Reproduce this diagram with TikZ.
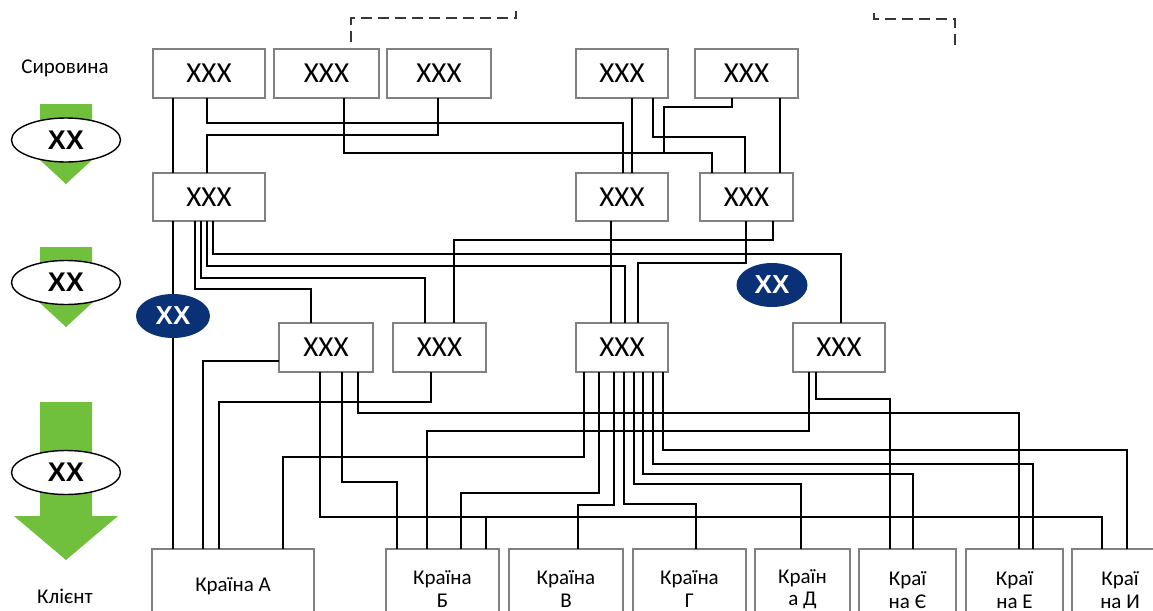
\documentclass[tikz,border=0pt]{standalone}
\usepackage{fontspec}
\setmainfont{Carlito}
\newfontfamily\xxfont{Liberation Sans}
\usetikzlibrary{shapes.geometric}
\definecolor{boxgray}{RGB}{128,128,128}
\definecolor{arrowgreen}{RGB}{112,192,62}
\definecolor{navyblue}{RGB}{10,48,118}
\definecolor{dashgray}{RGB}{55,55,55}
\begin{document}
\begin{tikzpicture}[x=0.5pt,y=-0.5pt,
  box/.style={draw=boxgray, line width=1.1pt, fill=white, inner sep=0pt, outer sep=0pt, font=\fontsize{14.5}{16}\selectfont},
  cbox/.style={box, font=\fontsize{10.5}{11.2}\selectfont, align=center},
  wire/.style={line width=0.8pt, black},
  oval/.style={ellipse, draw=black, line width=0.7pt, fill=white, inner sep=0pt, minimum width=54.5pt, minimum height=22pt, font=\xxfont\bfseries\fontsize{13.5}{15}\selectfont},
  blueoval/.style={ellipse, fill=navyblue, text=white, inner sep=0pt, minimum height=22pt, font=\xxfont\bfseries\fontsize{13}{15}\selectfont},
  dashline/.style={dashgray, line width=1.3pt, dash pattern=on 5.5pt off 3pt},
  greenarrow/.style={fill=arrowgreen, draw=none},
  lbl/.style={font=\fontsize{10.5}{12}\selectfont, inner sep=0pt}
]
\useasboundingbox (0,0) rectangle (1153,611);
\clip (0,0) rectangle (1153,611);

% left column
\node[lbl] (raw) at (65,68) {Сировина};
\node[lbl] (client) at (65,596) {Клієнт};
\fill[greenarrow] (40,104) -- (92,104) -- (92,137) -- (117,137) -- (66,184) -- (15,137) -- (40,137) -- cycle;
\fill[greenarrow] (40,247) -- (92,247) -- (92,280) -- (117,280) -- (66,327) -- (15,280) -- (40,280) -- cycle;
\fill[greenarrow] (40,402) -- (92,402) -- (92,516) -- (118,516) -- (66,560) -- (14,516) -- (40,516) -- cycle;
\node[oval] (o1) at (66,140) {XX};
\node[oval] (o2) at (66,282.5) {XX};
\node[oval] (o3) at (66,472.5) {XX};

% dashed lines
\draw[dashline] (351,42) -- (351,18) -- (516,18) -- (516,11);
\draw[dashline] (874,13) -- (874,19) -- (955,19) -- (955,48);

% boxes
\node[box, minimum width=56pt, minimum height=24.5pt] (T1) at (209,73.5) {XXX};
\node[box, minimum width=52.5pt, minimum height=24.5pt] (T2) at (326.5,73.5) {XXX};
\node[box, minimum width=52pt, minimum height=24.5pt] (T3) at (439,73.5) {XXX};
\node[box, minimum width=46pt, minimum height=24.5pt] (T4) at (622,73.5) {XXX};
\node[box, minimum width=51.5pt, minimum height=24.5pt] (T5) at (746.5,73.5) {XXX};
\node[box, minimum width=56pt, minimum height=24pt] (M1) at (209,197) {XXX};
\node[box, minimum width=46pt, minimum height=24pt] (M2) at (622,197) {XXX};
\node[box, minimum width=46.5pt, minimum height=24pt] (M3) at (746.5,197) {XXX};
\node[box, minimum width=47pt, minimum height=24.5pt] (L1) at (326,347.5) {XXX};
\node[box, minimum width=46.5pt, minimum height=24.5pt] (L2) at (439.5,347.5) {XXX};
\node[box, minimum width=46pt, minimum height=24.5pt] (L3) at (622,347.5) {XXX};
\node[box, minimum width=46pt, minimum height=24.5pt] (L4) at (839,347.5) {XXX};
\node[cbox, minimum width=81pt, minimum height=37pt] (CA) at (233,586) {Країна А};
\node[cbox, minimum width=56.5pt, minimum height=40pt] (CB) at (442.5,589) {Країна\\Б};
\node[cbox, minimum width=57pt, minimum height=40pt] (CV) at (566,589) {Країна\\В};
\node[cbox, minimum width=56.5pt, minimum height=40pt] (CG) at (689.5,589) {Країна\\Г};
\node[cbox, minimum width=47.5pt, minimum height=40pt] (CD) at (802.5,589) {Країн\\а Д};
\node[cbox, minimum width=48.5pt, minimum height=41pt] (CE) at (907.5,590) {Краї\\на Є};
\node[cbox, minimum width=48.5pt, minimum height=41pt] (CEE) at (1014.5,590) {Краї\\на Е};
\node[cbox, minimum width=48pt, minimum height=41pt] (CI) at (1120,590) {Краї\\на И};

% top -> middle
\draw[wire] (T1.south -| 173,0) -- (M1.north -| 173,0);
\draw[wire] (T1.south -| 207,0) |- (623,123) -- (M2.north -| 623,0);
\draw[wire] (T3.south -| 438,0) |- (207,135) -- (M1.north -| 207,0);
\draw[wire] (T2.south -| 344,0) |- (712,153) -- (M3.north -| 712,0);
\draw[wire] (T4.south -| 632,0) -- (M2.north -| 632,0);
\draw[wire] (T4.south -| 653,0) |- (745,137) -- (M3.north -| 745,0);
\draw[wire] (T5.south -| 732,0) |- (664,107) -- (664,153) -| (M3.north -| 712,0);
\draw[wire] (T5.south -| 780,0) -- (M3.north -| 780,0);

% middle -> lower
\draw[wire] (M1.south -| 173,0) -- (CA.north -| 173,0);
\draw[wire] (M1.south -| 195,0) |- (311,289) -- (L1.north -| 311,0);
\draw[wire] (M1.south -| 201,0) |- (425,278) -- (L2.north -| 425,0);
\draw[wire] (M1.south -| 207,0) |- (625,266) -- (L3.north -| 625,0);
\draw[wire] (M1.south -| 213,0) |- (841,254) -- (L4.north -| 841,0);
\draw[wire] (M2.south -| 611,0) -- (L3.north -| 611,0);
\draw[wire] (M3.south -| 773,0) |- (454,240) -- (L2.north -| 454,0);
\draw[wire] (M3.south -| 746,0) |- (638,263) -- (L3.north -| 638,0);

% lower -> countries
\draw[wire] (L1.west |- 0,361) -| (CA.north -| 203,0);
\draw[wire] (L2.south -| 431,0) |- (219,402) -- (CA.north -| 219,0);
\draw[wire] (L1.south -| 358,0) |- (1019,413) -- (CEE.north -| 1019,0);
\draw[wire] (L1.south -| 342,0) |- (397,482) -- (CB.north -| 397,0);
\draw[wire] (L1.south -| 320,0) |- (486,517) -- (CB.north -| 486,0);
\draw[wire] (L1.south -| 320,0) |- (1102,517) -- (CI.north -| 1102,0);
\draw[wire] (L4.south -| 809,0) |- (427,431) -- (CB.north -| 427,0);
\draw[wire] (L4.south -| 816,0) |- (890,399) -- (CE.north -| 890,0);
\draw[wire] (L3.south -| 584,0) |- (283,457) -- (CA.north -| 283,0);
\draw[wire] (L3.south -| 599,0) |- (461,493) -- (CB.north -| 461,0);
\draw[wire] (L3.south -| 614,0) |- (578,505) -- (CV.north -| 578,0);
\draw[wire] (L3.south -| 624,0) |- (696,504) -- (CG.north -| 696,0);
\draw[wire] (L3.south -| 634,0) |- (801,484) -- (CD.north -| 801,0);
\draw[wire] (L3.south -| 643,0) |- (913,474) -- (CE.north -| 913,0);
\draw[wire] (L3.south -| 653,0) |- (1033,464) -- (CEE.north -| 1033,0);
\draw[wire] (L3.south -| 663,0) |- (1127,450) -- (CI.north -| 1127,0);

% blue ovals
\node[blueoval, minimum width=37pt] (b1) at (173,316) {XX};
\node[blueoval, minimum width=35.5pt] (b2) at (772,285) {XX};
\end{tikzpicture}
\end{document}
